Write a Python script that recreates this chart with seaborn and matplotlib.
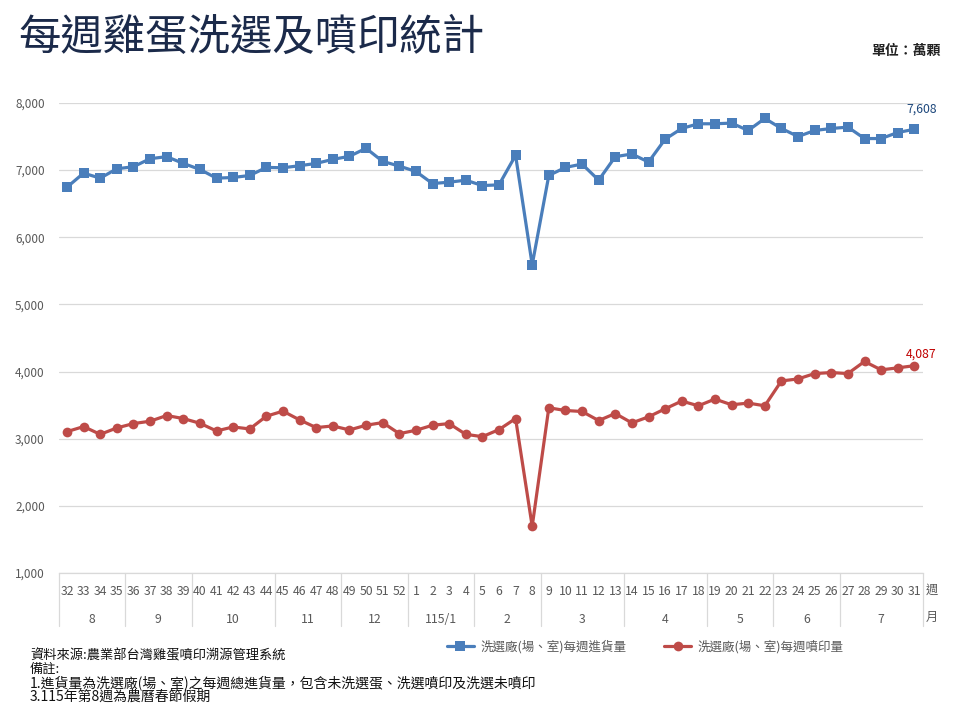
import matplotlib
matplotlib.use("Agg")
import matplotlib.pyplot as plt
import matplotlib.transforms as mtransforms
from matplotlib.lines import Line2D
import seaborn as sns
import pandas as pd

# ---------------- data ----------------
weeks = [str(w) for w in range(32, 53)] + [str(w) for w in range(1, 32)]
month_labels = ["8", "9", "10", "11", "12", "115/1", "2", "3", "4", "5", "6", "7"]
month_counts = [4, 4, 5, 4, 4, 4, 4, 5, 5, 4, 4, 5]

intake = [6745, 6955, 6880, 7020, 7050, 7170, 7200, 7100, 7010, 6880,
          6890, 6920, 7040, 7035, 7065, 7100, 7160, 7205, 7325, 7130,
          7060, 6980, 6800, 6820, 6850, 6770, 6780, 7220, 5590, 6920,
          7040, 7090, 6850, 7200, 7240, 7120, 7460, 7620, 7690, 7690,
          7700, 7590, 7770, 7620, 7500, 7590, 7620, 7640, 7470, 7470,
          7560, 7608]
printed = [3105, 3180, 3065, 3160, 3225, 3260, 3345, 3300, 3230, 3115,
           3175, 3145, 3335, 3410, 3280, 3165, 3190, 3130, 3200, 3240,
           3075, 3125, 3200, 3225, 3065, 3030, 3135, 3300, 1695, 3460,
           3420, 3405, 3270, 3375, 3235, 3325, 3445, 3560, 3490, 3590,
           3505, 3530, 3490, 3860, 3890, 3970, 3985, 3970, 4150, 4025,
           4055, 4087]
series_names = ["洗選廠(場、室)每週進貨量", "洗選廠(場、室)每週噴印量"]
yticks = [1000, 2000, 3000, 4000, 5000, 6000, 7000, 8000]

title = "每週雞蛋洗選及噴印統計"
unit = "單位：萬顆"
notes = ["資料來源:農業部台灣雞蛋噴印溯源管理系統",
         "備註:",
         "1.進貨量為洗選廠(場、室)之每週總進貨量，包含未洗選蛋、洗選噴印及洗選未噴印",
         "3.115年第8週為農曆春節假期"]

# ---------------- style ----------------
sns.set_theme(style="white")
plt.rcParams['font.family'] = ['Noto Sans CJK TC', 'DejaVu Sans']

BLUE = "#4a7ebb"
RED = "#be4b48"
GRID = "#d9d9d9"
TXT = "#595959"

df = pd.DataFrame({"idx": list(range(len(weeks))), "intake": intake, "printed": printed})

fig = plt.figure(figsize=(9.6, 7.2), dpi=100)
ax = fig.add_axes([0.0611, 0.2042, 0.9000, 0.6528])

sns.lineplot(data=df, x="idx", y="intake", ax=ax, color=BLUE, linewidth=2.3,
             marker="s", markersize=6.5, markeredgewidth=0, label=series_names[0])
sns.lineplot(data=df, x="idx", y="printed", ax=ax, color=RED, linewidth=2.3,
             marker="o", markersize=7, markeredgewidth=0, label=series_names[1])

n = len(weeks)
ax.set_xlim(-0.5, n - 0.5)
ax.set_ylim(yticks[0], yticks[-1])
ax.set_yticks(yticks)
ax.set_yticklabels([f"{v:,}" for v in yticks], fontsize=8.5, color=TXT)
ax.set_xticks(range(n))
ax.set_xticklabels(weeks, fontsize=8.8, color=TXT)
ax.tick_params(axis="x", length=0, pad=9)
ax.tick_params(axis="y", length=0, pad=10)
ax.set_xlabel("")
ax.set_ylabel("")
ax.grid(axis="y", color=GRID, linewidth=0.9)
ax.set_axisbelow(True)
for s in ["top", "right", "left"]:
    ax.spines[s].set_visible(False)
ax.spines["bottom"].set_color(GRID)
ax.spines["bottom"].set_linewidth(0.9)

# month labels and separators
trans = mtransforms.blended_transform_factory(ax.transData, ax.transAxes)
pos = -0.5
ax.add_line(Line2D([pos, pos], [0, -0.113], transform=trans, color=GRID, lw=0.9, clip_on=False))
for lab, cnt in zip(month_labels, month_counts):
    center = pos + cnt / 2
    ax.text(center, -0.100, lab, transform=trans, ha="center", va="center", fontsize=8.8, color=TXT)
    pos += cnt
    ax.add_line(Line2D([pos, pos], [0, -0.113], transform=trans, color=GRID, lw=0.9, clip_on=False))

fig.text(932 / 960, 1 - 590 / 720, "週", ha="center", va="center", fontsize=8.8, color=TXT)
fig.text(932 / 960, 1 - 617 / 720, "月", ha="center", va="center", fontsize=8.8, color=TXT)

# end labels
ax.annotate(f"{intake[-1]:,}", (n - 1, intake[-1]), xytext=(5, 10), textcoords="offset points",
            ha="center", va="bottom", fontsize=8.8, color="#1f497d")
ax.annotate(f"{printed[-1]:,}", (n - 1, printed[-1]), xytext=(5, 4), textcoords="offset points",
            ha="center", va="bottom", fontsize=8.8, color="#c00000")

# legend
handles, labels = ax.get_legend_handles_labels()
ax.get_legend().remove()
fig.legend(handles, labels, loc="center", bbox_to_anchor=(645 / 960, 1 - 647 / 720), ncol=2,
           frameon=False, fontsize=9, labelcolor=TXT, handlelength=2.2, handletextpad=0.5,
           columnspacing=3.0)

# title, unit
fig.text(18 / 960, 1 - 38 / 720, title, ha="left", va="center", fontsize=30.5,
         fontweight="medium", color="#1b2a4a")
fig.text(941 / 960, 1 - 51 / 720, unit, ha="right", va="center", fontsize=10,
         fontweight="bold", color="#222222")

# notes
ys = [656, 669, 683, 697]
sizes = [9.5, 9.5, 10, 10]
for t, y, fs in zip(notes, ys, sizes):
    fig.text(30 / 960, 1 - y / 720, t, ha="left", va="center", fontsize=fs, color="#111111")

fig.savefig("out.png", dpi=100)
